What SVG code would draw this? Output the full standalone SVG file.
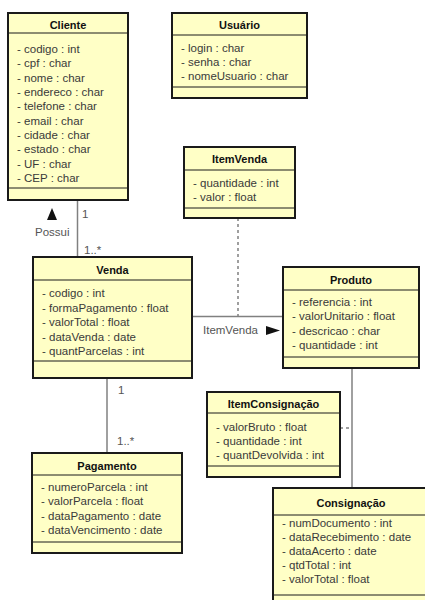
<svg xmlns="http://www.w3.org/2000/svg" width="425" height="600" viewBox="0 0 425 600">
  <style>
    .box { fill: #ffffc6; stroke: #1a1a1a; stroke-width: 2; }
    .sep { stroke: #1a1a1a; stroke-width: 1; }
    .title { font-family: "Liberation Sans", Arial, sans-serif; font-size: 11px; font-weight: bold; fill: #111; text-anchor: middle; }
    .attr { font-family: "Liberation Sans", Arial, sans-serif; font-size: 11.5px; fill: #3a3a3a; }
    .lbl { font-family: "Liberation Sans", Arial, sans-serif; font-size: 11.5px; fill: #555; }
    .assoc { stroke: #808080; stroke-width: 1.5; fill: none; }
    .dash { stroke: #808080; stroke-width: 1.5; fill: none; stroke-dasharray: 3 3; }
  </style>

  <rect width="425" height="600" fill="#ffffff"/>

  <!-- associations -->
  <g id="connectors">
    <line class="assoc" x1="77.5" y1="200" x2="77.5" y2="257"/>
    <line class="assoc" x1="192" y1="316.5" x2="283" y2="316.5"/>
    <line class="dash" x1="238" y1="218" x2="238" y2="316"/>
    <line class="assoc" x1="107" y1="378" x2="107" y2="453"/>
    <line class="assoc" x1="352" y1="368" x2="352" y2="488"/>
    <line class="dash" x1="340" y1="428" x2="352" y2="428"/>

    <text class="lbl" x="82" y="218">1</text>
    <text class="lbl" x="84" y="254">1..*</text>
    <text class="lbl" x="35" y="236">Possui</text>
    <polygon points="47,220 57,220 52,208" fill="#111"/>

    <text class="lbl" x="118" y="394">1</text>
    <text class="lbl" x="117" y="445">1..*</text>

    <text class="lbl" x="203" y="334">ItemVenda</text>
    <polygon points="266,326 266,335 280,330.5" fill="#111"/>
  </g>

  <g id="cliente">
    <rect class="box" x="8" y="13" width="120" height="187"/>
    <line class="sep" x1="8" y1="33" x2="128" y2="33"/>
    <line class="sep" x1="8" y1="188" x2="128" y2="188"/>
    <text class="title" x="68" y="29">Cliente</text>
    <text class="attr" x="17" y="53">- codigo : int</text>
    <text class="attr" x="17" y="67.3">- cpf : char</text>
    <text class="attr" x="17" y="81.7">- nome : char</text>
    <text class="attr" x="17" y="96">- endereco : char</text>
    <text class="attr" x="17" y="110.3">- telefone : char</text>
    <text class="attr" x="17" y="124.7">- email : char</text>
    <text class="attr" x="17" y="139">- cidade : char</text>
    <text class="attr" x="17" y="153.3">- estado : char</text>
    <text class="attr" x="17" y="167.7">- UF : char</text>
    <text class="attr" x="17" y="182">- CEP : char</text>
  </g>

  <g id="usuario">
    <rect class="box" x="172" y="13" width="135" height="85"/>
    <line class="sep" x1="172" y1="35" x2="307" y2="35"/>
    <line class="sep" x1="172" y1="87" x2="307" y2="87"/>
    <text class="title" x="239.5" y="29">Usuário</text>
    <text class="attr" x="181" y="52">- login : char</text>
    <text class="attr" x="181" y="66">- senha : char</text>
    <text class="attr" x="181" y="80">- nomeUsuario : char</text>
  </g>

  <g id="itemvenda">
    <rect class="box" x="184" y="147" width="111" height="71"/>
    <line class="sep" x1="184" y1="170" x2="295" y2="170"/>
    <line class="sep" x1="184" y1="208" x2="295" y2="208"/>
    <text class="title" x="239.5" y="163">ItemVenda</text>
    <text class="attr" x="193" y="187">- quantidade : int</text>
    <text class="attr" x="193" y="201">- valor : float</text>
  </g>

  <g id="venda">
    <rect class="box" x="33" y="257" width="159" height="121"/>
    <line class="sep" x1="33" y1="280" x2="192" y2="280"/>
    <line class="sep" x1="33" y1="361" x2="192" y2="361"/>
    <text class="title" x="112.5" y="274">Venda</text>
    <text class="attr" x="42" y="297">- codigo : int</text>
    <text class="attr" x="42" y="311.5">- formaPagamento : float</text>
    <text class="attr" x="42" y="326">- valorTotal : float</text>
    <text class="attr" x="42" y="340.5">- dataVenda : date</text>
    <text class="attr" x="42" y="355">- quantParcelas : int</text>
  </g>

  <g id="produto">
    <rect class="box" x="283" y="267" width="136" height="101"/>
    <line class="sep" x1="283" y1="290" x2="419" y2="290"/>
    <line class="sep" x1="283" y1="357" x2="419" y2="357"/>
    <text class="title" x="351" y="284">Produto</text>
    <text class="attr" x="292" y="306">- referencia : int</text>
    <text class="attr" x="292" y="320.3">- valorUnitario : float</text>
    <text class="attr" x="292" y="334.7">- descricao : char</text>
    <text class="attr" x="292" y="349">- quantidade : int</text>
  </g>

  <g id="itemconsignacao">
    <rect class="box" x="207" y="392" width="133" height="85"/>
    <line class="sep" x1="207" y1="413" x2="340" y2="413"/>
    <line class="sep" x1="207" y1="466" x2="340" y2="466"/>
    <text class="title" x="273.5" y="408">ItemConsignação</text>
    <text class="attr" x="216" y="431">- valorBruto : float</text>
    <text class="attr" x="216" y="445">- quantidade : int</text>
    <text class="attr" x="216" y="459">- quantDevolvida : int</text>
  </g>

  <g id="pagamento">
    <rect class="box" x="32" y="453" width="150" height="100"/>
    <line class="sep" x1="32" y1="475" x2="182" y2="475"/>
    <line class="sep" x1="32" y1="542" x2="182" y2="542"/>
    <text class="title" x="107" y="470">Pagamento</text>
    <text class="attr" x="41" y="491">- numeroParcela : int</text>
    <text class="attr" x="41" y="505.3">- valorParcela : float</text>
    <text class="attr" x="41" y="519.7">- dataPagamento : date</text>
    <text class="attr" x="41" y="534">- dataVencimento : date</text>
  </g>

  <g id="consignacao">
    <rect class="box" x="273" y="488" width="160" height="120"/>
    <line class="sep" x1="273" y1="515" x2="433" y2="515"/>
    <line class="sep" x1="273" y1="595" x2="433" y2="595"/>
    <text class="title" x="351" y="507">Consignação</text>
    <text class="attr" x="282" y="527">- numDocumento : int</text>
    <text class="attr" x="282" y="541">- dataRecebimento : date</text>
    <text class="attr" x="282" y="555">- dataAcerto : date</text>
    <text class="attr" x="282" y="569">- qtdTotal : int</text>
    <text class="attr" x="282" y="583">- valorTotal : float</text>
  </g>
</svg>
